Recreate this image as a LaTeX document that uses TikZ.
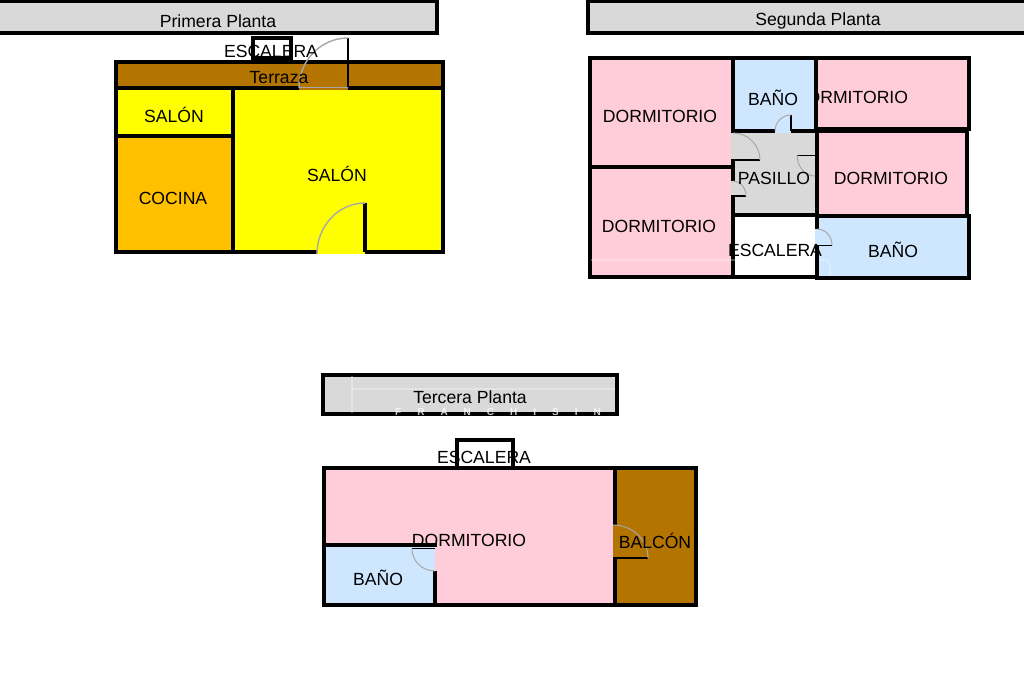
\documentclass[tikz,border=0pt]{standalone}
\usepackage{fontspec}
\setmainfont{Liberation Sans}
\definecolor{rosa}{HTML}{FFCCD9}
\definecolor{azul}{HTML}{CFE6FF}
\definecolor{gris}{HTML}{D9D9D9}
\definecolor{marron}{HTML}{B37400}
\definecolor{naranja}{HTML}{FFC000}
\definecolor{amarillo}{HTML}{FFFF00}
\definecolor{arco}{HTML}{A8A8A8}
\tikzset{
  muro/.style={draw=black,line width=3.2pt},
  hoja/.style={draw=black,line width=1.6pt},
  giro/.style={draw=arco,line width=1pt},
  marca/.style={draw=white,opacity=.3,line width=1.5pt},
  rotulo/.style={inner sep=0pt,font=\fontsize{17.6}{20}\selectfont}
}
\begin{document}
\begin{tikzpicture}[x=1pt,y=-1pt]
  \useasboundingbox (0,0) rectangle (1024,682);
  % Primera Planta
  \draw[muro,fill=gris] (-3,1) rectangle (437,33);
  \node[rotulo] (tituloA) at (218,21) {Primera Planta};
  \draw[muro,fill=white] (253,38) rectangle (291,58);
  \draw[muro,fill=marron] (116,62) rectangle (443,88);
  \draw[muro,fill=amarillo] (116,88) rectangle (233,136);
  \draw[muro,fill=naranja] (116,136) rectangle (233,252);
  \draw[muro,fill=amarillo] (233,88) rectangle (443,252);
  % puerta terraza
  \fill[marron] (299,63.6) rectangle (348,89.6);
  \draw[hoja] (348,38) -- (348,88);
  \draw[giro,line width=1.4pt] (348,38) arc (270:180:49 and 50);
  \draw[giro] (299,88) -- (348,88);
  % puerta salon
  \fill[amarillo] (317,203) -- (365,203) -- (365,254) -- (317,254) -- cycle;
  \draw[muro] (365,203) -- (365,252);
  \draw[giro,line width=1.4pt] (365,203) arc (270:180:48 and 51);
  \node[rotulo] (escaleraA) at (271,51) {ESCALERA};
  \node[rotulo] (terraza) at (279,78) {Terraza};
  \node[rotulo] (salonA) at (174,115) {SALÓN};
  \node[rotulo] (cocina) at (173,198) {COCINA};
  \node[rotulo] (salonB) at (337,174) {SALÓN};
  % Segunda Planta
  \draw[muro,fill=gris] (588,1) rectangle (1027,33);
  \node[rotulo] (tituloB) at (818,21) {Segunda Planta};
  \draw[muro,fill=rosa] (590,58) rectangle (733,167);
  \draw[muro,fill=rosa] (590,167) rectangle (733,277);
  \draw[muro,fill=rosa] (816,58) rectangle (969,129);
  \draw[muro,fill=azul] (733,58) rectangle (816,131);
  \draw[muro,fill=gris] (733,131) rectangle (817,215);
  \draw[muro,fill=rosa] (817,131) rectangle (967,216);
  \draw[muro,fill=white] (733,215) rectangle (817,277);
  \draw[muro,fill=azul] (817,216) rectangle (969,278);
  % marca de agua
  \draw[marca] (591,260) -- (815,260);
  \draw[marca] (819,260) -- (825,260) to[out=0,in=90] (830,265) -- (830,276);
  % puertas pasillo
  \fill[azul] (775,115) rectangle (791,133);
  \draw[hoja] (791,115) -- (791,131);
  \draw[giro] (791,115) arc (270:180:16);
  \fill[gris] (731,133) rectangle (760,160);
  \draw[hoja] (731,160) -- (760,160);
  \draw[giro] (733,133) arc (270:360:27);
  \fill[gris] (731,181) rectangle (746,196);
  \draw[hoja] (731,196) -- (746,196);
  \draw[giro] (733,181) arc (270:360:13 and 15);
  \draw[black,line width=1pt] (797,155) -- (815,155);
  \draw[giro] (797,155) arc (180:90:18 and 21);
  \fill[azul] (815,229) rectangle (832,245);
  \draw[hoja] (815,245.5) -- (832,245.5);
  \draw[giro] (817,229) arc (270:360:15 and 16);
  \node[rotulo] (dormA) at (660,116) {DORMITORIO};
  \node[rotulo] (dormB) at (659,226) {DORMITORIO};
  \node[rotulo] (banoA) at (773,98) {BAÑO};
  \begin{scope}
    \clip (818,60) rectangle (967,127);
    \node[rotulo] (dormC) at (851,97) {DORMITORIO};
  \end{scope}
  \node[rotulo] (dormD) at (891,178) {DORMITORIO};
  \node[rotulo] (pasillo) at (774,178) {PASILLO};
  \node[rotulo] (escaleraB) at (775,250) {ESCALERA};
  \node[rotulo] (banoB) at (893,250) {BAÑO};
  % Tercera Planta
  \draw[muro,fill=gris] (323,375) rectangle (617,414);
  \draw[marca] (352,376) -- (352,413);
  \draw[marca] (352,389) -- (615,389);
  \node[inner sep=0pt,text=white,opacity=.8,font=\bfseries\fontsize{10}{11}\selectfont] (marcaC) at (498,412) {F\hspace{16pt}R\hspace{16pt}A\hspace{16pt}N\hspace{16pt}C\hspace{16pt}H\hspace{16pt}I\hspace{16pt}S\hspace{16pt}I\hspace{16pt}N};
  \node[rotulo] (tituloC) at (470,397) {Tercera Planta};
  \draw[muro,fill=white] (457,440) rectangle (513,468);
  \draw[muro,fill=rosa] (324,468) rectangle (615,605);
  \draw[muro,fill=marron] (615,468) rectangle (696,605);
  \draw[muro,fill=azul] (324,545) rectangle (435,605);
  % puertas bano y balcon
  \fill[azul] (412,546.6) rectangle (435,571);
  \fill[rosa] (435,546.6) rectangle (437,571);
  \draw[hoja] (412,548.5) -- (435,548.5);
  \draw[giro] (412,549) arc (180:90:23 and 22);
  \fill[marron] (613,525) rectangle (648,558);
  \draw[hoja] (613,558) -- (648,558);
  \draw[giro] (613,525) arc (270:360:35 and 33);
  \node[rotulo] (escaleraC) at (484,457) {ESCALERA};
  \node[rotulo] (dormE) at (469,540) {DORMITORIO};
  \node[rotulo] (banoC) at (378,578) {BAÑO};
  \node[rotulo] (balcon) at (655,541) {BALCÓN};
\end{tikzpicture}
\end{document}
